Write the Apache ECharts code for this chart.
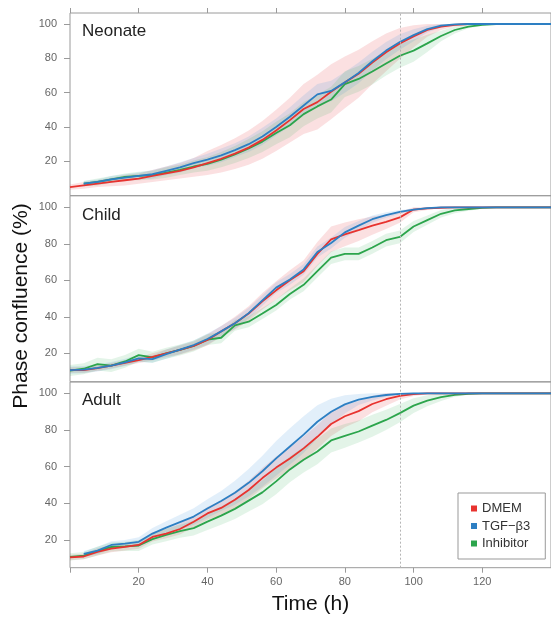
<!DOCTYPE html>
<html>
<head>
<meta charset="utf-8">
<script src="https://cdn.jsdelivr.net/npm/echarts@6/dist/echarts.min.js"></script>
<style>html,body{margin:0;padding:0;background:#fff;}#c{width:551px;height:622px;}</style>
</head>
<body>
<div id="c"></div>
<script>
// ---- data ----
const times = [0,4,8,12,16,20,24,28,32,36,40,44,48,52,56,60,64,68,72,76,80,84,88,92,96,100,104,108,112,116,120,124,128,132,136,140];
const seriesNames = ['DMEM', 'TGF\u2212\u03b23', 'Inhibitor'];
const panelNames = ['Neonate', 'Child', 'Adult'];
const yTicks = [20, 40, 60, 80, 100];
const xTickLabels = [20, 40, 60, 80, 100, 120];
const xTicks = [0, 20, 40, 60, 80, 100, 120];
const cutoffTime = 96;

// Neonate
const neonateDMEM = [5,6,7,8,9,10,11.5,13,14.5,16.5,19,21.5,24.5,28,32.5,38,44,50.5,54.5,60.5,66,71,77.5,83.5,88.7,92.8,96.5,98.5,99.5,100,100,100,100,100,100,100];
const neonateTGF  = [null,7,8,9.5,10.5,11.5,12.5,14.5,16.5,19,21,23.5,26.5,30,34.5,40,46,52.5,59,61,66,71.5,78.3,84.5,89.5,93.5,97,99,99.8,100,100,100,100,100,100,100];
const neonateInh  = [null,7,8,9.5,11,11.5,12,13.5,15,17,18.5,21,24,27.5,31.5,36.5,41,47.5,52,56,65,68,72.3,77,81.5,84.5,88.7,93,96.5,98.5,99.5,100,100,100,100,100];
const neonateDMEMsd = [1.5,2,2,2.5,3,3,3.5,4,4.5,5.5,7,8,9,10,11,12,13,14.5,16,16,15,14,12.5,11,9,6.5,4,2,1,0.5,0.3,0,0,0,0,0];
const neonateTGFsd  = [0,1.5,1.5,2,2,2,2.5,2.5,3,3,3.5,4,4,4.5,5,5,5.5,6,6,6,6,6,5.5,5,4.5,3.5,2,1,0.5,0.2,0,0,0,0,0,0];
const neonateInhsd  = [0,1.5,2,2,2,2.5,2.5,3,3,3.5,4,4.5,5,5.5,6,6.5,7,7,7,7.5,7.5,7.5,7.5,7,7,6.5,5,3,2,1,0.5,0.2,0,0,0,0];

// Child
const childDMEM = [10.8,10.8,11.8,13.2,14.7,16.2,18,20,21.8,24,27.3,32,36.5,41.8,48.5,54.5,60,65,74.5,82.5,85.2,87.5,90,92.1,94.5,98.8,99.4,99.8,100,100,100,100,100,100,100,100];
const childTGF  = [10.8,11,12,13.2,15,17.2,16.8,19.5,22,24.5,27.8,32,36.5,42,49,56,60.5,66,75.5,80.5,86.3,90,93.5,95.8,97.5,98.8,99.6,100,100,100,100,100,100,100,100,100];
const childInh  = [10.5,11.5,14,13.2,15.5,19,17.8,20,21.8,24,27.5,28.5,35.3,37.3,41.8,46.5,52.5,57.5,65,72.5,74.5,74.5,78,82,83.8,89.5,93,96.5,98.3,99.1,99.7,100,100,100,100,100];
const childDMEMsd = [1.5,1.5,1.5,1.5,1.5,1.5,2,2,2.5,2.5,3,3,3.5,4,4.5,5,5.5,6,6.5,7,6.5,6,5,4,3,1.5,0.8,0.3,0,0,0,0,0,0,0,0];
const childTGFsd  = [2,2,2,2,2,2,2,2.5,2.5,2.5,3,3,3,3,3,3,3,3,3,3,3,2.5,2,1.5,1,0.5,0.3,0,0,0,0,0,0,0,0,0];
const childInhsd  = [3,3,3.5,3.5,3.5,3.5,3,3,3,3,3,3,3,3,3,3,3,3.5,3.5,3.5,3.5,3.5,3.5,3.5,3.5,3,2.5,2,1.5,1,0.5,0.2,0,0,0,0];

// Adult
const adultDMEM = [10.5,11,13.5,15.3,16.3,17.3,21.7,23.5,26,30,34.5,37.5,42,47.3,53.8,59.5,64.5,70,76.3,83.3,87.5,90.3,94.2,96.8,98.6,99.6,100,100,100,100,100,100,100,100,100,100];
const adultTGF  = [null,12.5,14.2,17.3,18,19,23.5,26.8,29.8,32.8,37.2,41.3,45.8,51.2,57.5,64.5,71,77.5,84.5,90,94,96.6,98.1,99.1,99.7,100,100,100,100,100,100,100,100,100,100,100];
const adultInh  = [10.8,11.5,14,16.2,16.5,17,20.5,22.8,24.8,26.5,30,33.3,37,41.5,46,52,58.5,63.8,68.3,74.3,76.8,79.2,82.4,85.5,89.2,93.3,96,97.9,99.2,99.8,100,100,100,100,100,100];
const adultDMEMsd = [1.5,1.5,2,2,2,2,2.5,2.5,3,3,3.5,4,4.5,5,5.5,6,6,6.5,6.5,6.5,6,5.5,4.5,3.5,2,1,0.5,0,0,0,0,0,0,0,0,0];
const adultTGFsd  = [0,1.5,2,2,2,2.5,3,3.5,4,4.5,5,5.5,6.5,7.5,8.5,9.5,10,10,9,7,5,3,2,1,0.5,0.2,0,0,0,0,0,0,0,0,0,0];
const adultInhsd  = [2,2,2.5,2.5,2.5,3,3,3.5,3.5,4,4.5,5,5.5,6,6.5,7,7,7,7,6.5,6.5,6,6,5.5,5,4,3,2,1,0.5,0.2,0,0,0,0,0];

// ---- styling ----
const lineColors = ['#e8332f', '#2d7fc3', '#2ca54c'];
const bandColors = ['rgba(232,70,80,0.17)', 'rgba(60,150,220,0.15)', 'rgba(60,180,90,0.14)'];
const FONT = '"Liberation Sans", Arial, Helvetica, sans-serif';

const panels = [
  { vals: [neonateDMEM, neonateTGF, neonateInh], sds: [neonateDMEMsd, neonateTGFsd, neonateInhsd], top: 13, height: 182.7, min: 0, max: 106.4 },
  { vals: [childDMEM, childTGF, childInh], sds: [childDMEMsd, childTGFsd, childInhsd], top: 195.7, height: 186, min: 4.4, max: 106.4 },
  { vals: [adultDMEM, adultTGF, adultInh], sds: [adultDMEMsd, adultTGFsd, adultInhsd], top: 382, height: 185.7, min: 4.9, max: 106.2 }
];

function linePairs(vals) {
  const out = [];
  times.forEach((t, i) => { if (vals[i] !== null) out.push([t, vals[i]]); });
  return out;
}
function bandItems(vals, sds) {
  const out = [];
  times.forEach((t, i) => {
    if (vals[i] !== null) out.push([t, vals[i] - sds[i], Math.min(100, vals[i] + sds[i])]);
  });
  return out;
}
function bandRender(items, color) {
  return function (params, api) {
    if (params.dataIndex !== 0) return null;
    const upper = items.map(d => api.coord([d[0], d[2]]));
    const lower = items.map(d => api.coord([d[0], d[1]])).reverse();
    return { type: 'polygon', silent: true, shape: { points: upper.concat(lower) }, style: { fill: color } };
  };
}

const grids = [], xAxes = [], yAxes = [], series = [];
const gray = '#9a9a9a';
panels.forEach((p, k) => {
  grids.push({ left: 70, right: -1, top: p.top, height: p.height, show: true, borderColor: gray, borderWidth: 1, containLabel: false });
  const isLast = k === panels.length - 1;
  xAxes.push({
    type: 'value', gridIndex: k, min: 0, max: 140, interval: 20, position: 'bottom',
    axisLine: { show: false },
    axisTick: { show: isLast, length: 5, customValues: xTicks, lineStyle: { color: gray } },
    axisLabel: { show: isLast, customValues: xTickLabels, color: '#666', fontSize: 11, margin: 9, fontFamily: FONT },
    splitLine: { show: false },
    name: isLast ? 'Time (h)' : '', nameLocation: 'middle', nameGap: 26,
    nameTextStyle: { fontSize: 21, color: '#111', fontFamily: FONT }
  });
  yAxes.push({
    type: 'value', gridIndex: k, min: p.min, max: p.max,
    axisLine: { show: false },
    axisTick: { show: true, length: 6, customValues: yTicks, lineStyle: { color: gray } },
    axisLabel: { show: true, customValues: yTicks, color: '#666', fontSize: 11, margin: 13, fontFamily: FONT },
    splitLine: { show: false }
  });
  // bands
  [0, 1, 2].forEach(s => {
    const items = bandItems(p.vals[s], p.sds[s]);
    series.push({
      type: 'custom', name: 'band' + k + s, xAxisIndex: k, yAxisIndex: k,
      data: items, encode: { x: 0, y: [1, 2] }, silent: true,
      renderItem: bandRender(items, bandColors[s]), z: 1
    });
  });
  // lines: green, red, blue order
  [2, 0, 1].forEach(s => {
    const ser = {
      type: 'line', name: seriesNames[s], xAxisIndex: k, yAxisIndex: k,
      data: linePairs(p.vals[s]), showSymbol: false, symbol: 'none',
      lineStyle: { color: lineColors[s], width: 1.8 }, itemStyle: { color: lineColors[s] }, z: 3
    };
    if (s === 2) {
      ser.markLine = {
        silent: true, symbol: ['none', 'none'], label: { show: false },
        lineStyle: { type: [2, 2], color: '#b5b5b5', width: 1 },
        data: [{ xAxis: cutoffTime }]
      };
    }
    series.push(ser);
  });
});
// top axis for first panel
xAxes.push({
  type: 'value', gridIndex: 0, min: 0, max: 140, interval: 20, position: 'top',
  axisLine: { show: false },
  axisTick: { show: true, length: 5, customValues: xTicks, lineStyle: { color: gray } },
  axisLabel: { show: false }, splitLine: { show: false }
});

const chart = echarts.init(document.getElementById('c'), null, { renderer: 'canvas' });
chart.setOption({
  animation: false,
  backgroundColor: '#fff',
  textStyle: { fontFamily: FONT },
  grid: grids, xAxis: xAxes, yAxis: yAxes, series: series,
  legend: {
    data: seriesNames, orient: 'vertical', left: 458, top: 493,
    icon: 'rect', itemWidth: 6, itemHeight: 6, itemGap: 4.5,
    padding: [9, 15, 9, 13], borderColor: '#999', borderWidth: 1, backgroundColor: '#fff',
    textStyle: { fontSize: 13, color: '#333', fontFamily: FONT }
  },
  graphic: [
    { type: 'text', left: 82, top: 23, style: { text: panelNames[0], fontSize: 17, fill: '#222', fontFamily: FONT } },
    { type: 'text', left: 82, top: 206.5, style: { text: panelNames[1], fontSize: 17, fill: '#222', fontFamily: FONT } },
    { type: 'text', left: 82, top: 392, style: { text: panelNames[2], fontSize: 17, fill: '#222', fontFamily: FONT } },
    { type: 'text', x: 21, y: 306, rotation: Math.PI / 2,
      style: { text: 'Phase confluence (%)', fontSize: 21, fill: '#111', fontFamily: FONT, textAlign: 'center', textVerticalAlign: 'middle' } }
  ]
});
</script>
</body>
</html>
